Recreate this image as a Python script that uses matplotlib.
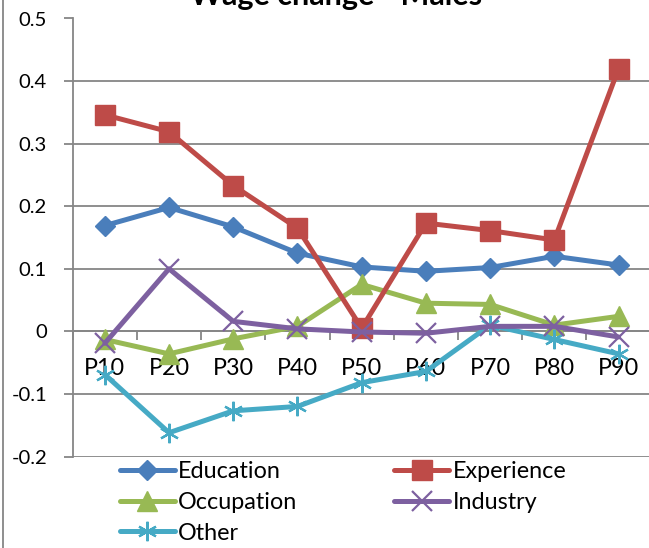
import matplotlib
matplotlib.use("Agg")
import matplotlib.pyplot as plt
from matplotlib.lines import Line2D

plt.rcParams['font.family'] = ['Lato', 'DejaVu Sans']

# data
categories = ["P10", "P20", "P30", "P40", "P50", "P60", "P70", "P80", "P90"]
education = [0.169, 0.198, 0.167, 0.125, 0.103, 0.096, 0.102, 0.120, 0.106]
experience = [0.346, 0.319, 0.233, 0.165, 0.005, 0.173, 0.161, 0.146, 0.420]
occupation = [-0.013, -0.036, -0.012, 0.008, 0.075, 0.045, 0.043, 0.010, 0.024]
industry = [-0.019, 0.100, 0.016, 0.004, -0.001, -0.003, 0.008, 0.008, -0.009]
other = [-0.069, -0.162, -0.127, -0.120, -0.082, -0.064, 0.010, -0.013, -0.036]
yticks = [-0.2, -0.1, 0, 0.1, 0.2, 0.3, 0.4, 0.5]
ytick_labels = ["-0.2", "-0.1", "0", "0.1", "0.2", "0.3", "0.4", "0.5"]

grey = '#868686'
W, H = 649, 548

fig = plt.figure(figsize=(W / 100, H / 100), dpi=100)
# plot area runs a few pixels past the right edge, as in the cropped original
ax = fig.add_axes([72.7 / W, 1 - 456.5 / H, 578.0 / W, (456.5 - 18.5) / H])

x = list(range(1, len(categories) + 1))
lw = 3.6
series = [
    ("Education", education, '#4A7EBB', 'D', 10.5, 1.0),
    ("Occupation", occupation, '#98B954', '^', 14, 1.0),
    ("Other", other, '#46AAC5', (6, 2, 0), 14, 1.6),
    ("Experience", experience, '#BE4B48', 's', 14, 1.0),
    ("Industry", industry, '#7D60A0', 'x', 14, 1.6),
]
lines = {}
for name, vals, col, mk, ms, mew in series:
    ln, = ax.plot(x, vals, color=col, lw=lw, marker=mk, ms=ms,
                  mfc=col, mec=col, mew=mew, label=name,
                  solid_capstyle='round', solid_joinstyle='round', zorder=3)
    lines[name] = ln

ax.set_xlim(0.5, len(categories) + 0.5)
ax.set_ylim(-0.2, 0.5)
ax.set_yticks(yticks)
ax.set_yticklabels(ytick_labels)
ax.yaxis.grid(True, color=grey, lw=1.3)
ax.set_axisbelow(True)

# category axis crosses at zero
for s in ['top', 'right']:
    ax.spines[s].set_visible(False)
ax.spines['bottom'].set_position(('data', 0))
ax.spines['bottom'].set_color(grey)
ax.spines['bottom'].set_linewidth(1.3)
ax.spines['left'].set_color(grey)
ax.spines['left'].set_linewidth(1.3)

ax.set_xticks(x)
ax.set_xticklabels(categories)
ax.set_xticks([i + 0.5 for i in range(len(categories))], minor=True)
ax.tick_params(axis='x', which='major', length=0, pad=19, labelsize=16.8)
ax.tick_params(axis='x', which='minor', length=6.5, width=1.3, color=grey,
               direction='out')
ax.tick_params(axis='y', length=6.5, width=1.3, color=grey, pad=12,
               labelsize=14.6)

fig.text(336 / W, 1 - 5 / H, "Wage change - Males", ha='center',
         va='baseline', fontsize=22, fontweight='bold')

# left edge of the chart border
fig.add_artist(Line2D([2.7 / W, 2.7 / W], [0, 1], color=grey, lw=1.3,
                      transform=fig.transFigure))

order = ["Education", "Occupation", "Other", "Experience", "Industry"]
leg = fig.legend([lines[n] for n in order], order, ncol=2,
                 loc='upper left', bbox_to_anchor=(120 / W, 1 - 461 / H),
                 frameon=False, fontsize=16.8, handlelength=2.35,
                 handletextpad=0.15, columnspacing=4.15, labelspacing=0.42,
                 borderpad=0, borderaxespad=0)

fig.savefig("out.png", dpi=100)
